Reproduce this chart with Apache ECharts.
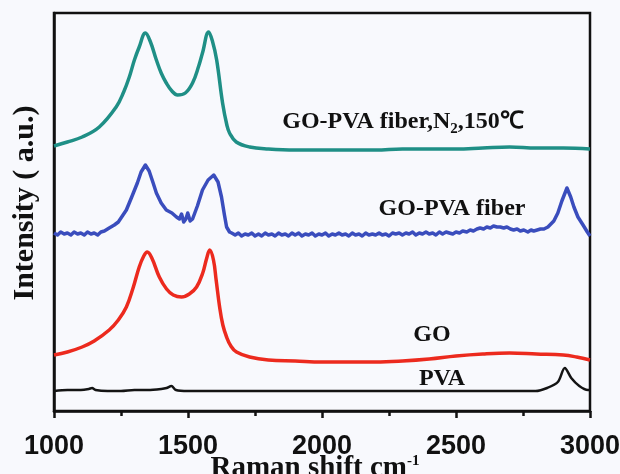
<!DOCTYPE html>
<html>
<head>
<meta charset="utf-8">
<script src="https://cdn.jsdelivr.net/npm/echarts@6/dist/echarts.min.js"></script>
<style>
html,body{margin:0;padding:0;background:#f8f9fd;}
#c{width:620px;height:474px;}
</style>
</head>
<body>
<div id="c"></div>
<script>
// Raman shift (cm-1) tick labels
const xTicks = [1000, 1500, 2000, 2500, 3000];

// [Raman shift, intensity (a.u., offset)]
const pva = [[1000,20],[1050,21],[1100,21],[1130,22],[1142,23],[1155,21],[1200,20],[1250,20],[1300,21],[1350,21],[1400,22],[1420,23],[1438,25],[1455,21],[1500,20],[1600,20],[1700,20],[1800,20],[1900,20],[2000,20],[2100,20],[2200,20],[2300,20],[2400,20],[2500,20],[2600,20],[2700,20],[2797,20],[2840,23],[2880,29],[2906,43],[2930,33],[2960,25],[2992,21],[3000,21]];

const go = [[1000,56],[1050,59],[1105,64],[1150,70],[1206,81],[1240,91],[1270,104],[1295,123],[1318,144],[1335,155],[1348,159],[1365,153],[1393,134],[1420,122],[1445,116],[1476,114],[1505,117],[1532,124],[1555,138],[1570,153],[1581,161],[1595,151],[1605,131],[1618,104],[1630,86],[1644,74],[1660,65],[1681,59],[1730,54],[1800,51],[1900,50],[2000,49],[2100,49],[2200,49],[2300,50],[2400,52],[2500,55],[2600,57],[2700,58],[2800,57],[2900,56],[2950,54],[3000,51]];

const goPvaFiber = [[1000,178],[1013,176],[1025,179],[1038,177],[1050,178],[1063,176],[1075,179],[1088,177],[1100,178],[1113,176],[1125,179],[1138,177],[1150,178],[1163,176],[1175,179],[1188,180],[1206,183],[1225,186],[1240,189],[1255,195],[1270,201],[1290,214],[1311,228],[1325,239],[1341,246],[1355,240],[1370,228],[1382,218],[1400,208],[1419,201],[1440,198],[1457,194],[1468,192],[1476,197],[1484,189],[1492,192],[1499,198],[1508,190],[1517,192],[1535,205],[1554,221],[1575,231],[1596,236],[1612,229],[1625,214],[1636,196],[1644,184],[1655,179],[1663,178],[1676,176],[1688,178],[1700,175],[1713,177],[1725,176],[1738,178],[1750,175],[1763,177],[1775,175],[1788,178],[1800,176],[1813,177],[1825,175],[1838,178],[1850,176],[1863,177],[1875,175],[1888,178],[1900,176],[1913,178],[1925,175],[1938,177],[1950,176],[1963,178],[1975,175],[1988,177],[2000,176],[2013,178],[2025,175],[2038,177],[2050,176],[2063,178],[2075,176],[2088,177],[2100,175],[2113,178],[2125,176],[2138,177],[2150,175],[2163,178],[2175,176],[2188,177],[2200,176],[2213,178],[2225,176],[2238,177],[2250,175],[2263,178],[2275,177],[2288,178],[2300,176],[2313,178],[2325,177],[2338,179],[2350,176],[2363,178],[2375,177],[2388,179],[2400,177],[2413,178],[2425,176],[2438,179],[2450,177],[2463,179],[2475,178],[2488,177],[2500,179],[2513,178],[2525,180],[2540,179],[2553,181],[2565,180],[2578,182],[2590,183],[2603,182],[2615,184],[2628,183],[2640,185],[2653,184],[2665,184],[2678,183],[2690,184],[2703,182],[2715,181],[2728,182],[2740,180],[2753,181],[2768,179],[2780,181],[2790,180],[2803,181],[2815,182],[2828,182],[2843,184],[2865,190],[2880,198],[2895,210],[2914,223],[2928,214],[2940,204],[2955,194],[2974,186],[2990,179],[3000,175]];

const goPvaFiberN2 = [[1000,265],[1050,269],[1105,274],[1169,284],[1232,304],[1260,319],[1281,334],[1300,351],[1318,364],[1341,378],[1360,369],[1382,351],[1400,338],[1419,328],[1440,320],[1461,316],[1490,318],[1517,328],[1540,345],[1554,358],[1577,379],[1592,369],[1607,351],[1629,308],[1645,286],[1655,278],[1680,269],[1730,264],[1800,262],[1900,261],[2000,261],[2100,261],[2200,261],[2300,262],[2400,262],[2500,262],[2600,263],[2700,264],[2800,263],[2900,263],[3000,262]];

const seriesNames = ['PVA', 'GO', 'GO-PVA fiber', 'GO-PVA fiber,N2,150℃'];

const chart = echarts.init(document.getElementById('c'), null, {renderer: 'canvas'});
const serif = '"Liberation Serif","Times New Roman",serif';
const lbl = {fontFamily: serif, fontWeight: 'bold', fontSize: 24, fill: '#111'};

chart.setOption({
  backgroundColor: '#f8f9fd',
  animation: false,
  grid: {left: 54, right: 30, top: 13, bottom: 63, containLabel: false, outerBoundsMode: 'none',
    show: true, borderColor: '#111', borderWidth: 2.5, backgroundColor: 'transparent'},
  xAxis: {
    type: 'value', min: 1000, max: 3000, interval: 500,
    name: 'Raman shift cm{sup|-1}', nameLocation: 'middle', nameGap: 43, nameMoveOverlap: false,
    nameTextStyle: {fontFamily: serif, fontWeight: 'bold', fontSize: 29, color: '#111', padding: [0, 14, 0, 0],
      rich: {sup: {fontFamily: serif, fontWeight: 'bold', fontSize: 15, color: '#111', verticalAlign: 'top', padding: [0,0,12,0]}}},
    axisLine: {show: true, lineStyle: {color: '#111', width: 2.5}},
    axisTick: {show: true, inside: false, length: 7, lineStyle: {color: '#111', width: 2.5}},
    minorTick: {show: true, splitNumber: 2, length: 5, lineStyle: {color: '#111', width: 2.5}},
    splitLine: {show: false},
    axisLabel: {margin: 22, fontFamily: '"Liberation Sans",Arial,sans-serif', fontWeight: 'bold', fontSize: 27, color: '#111',
      formatter: v => xTicks.includes(v) ? String(v) : ''}
  },
  yAxis: {
    type: 'value', min: 0, max: 398,
    name: 'Intensity ( a.u.)', nameLocation: 'middle', nameGap: 14, nameRotate: 90, nameMoveOverlap: false,
    nameTextStyle: {fontFamily: serif, fontWeight: 'bold', fontSize: 30, color: '#111', padding: [0, 0, 0, 18]},
    axisLine: {show: true, lineStyle: {color: '#111', width: 2.5}},
    axisTick: {show: false}, axisLabel: {show: false}, splitLine: {show: false}
  },
  series: [
    {name: seriesNames[0], type: 'line', data: pva, showSymbol: false, smooth: 0.3, lineStyle: {color: '#141414', width: 2.5}},
    {name: seriesNames[1], type: 'line', data: go, showSymbol: false, smooth: 0.4, lineStyle: {color: '#ec2a1e', width: 3.5}},
    {name: seriesNames[2], type: 'line', data: goPvaFiber, showSymbol: false, smooth: false, lineStyle: {color: '#3a4dbd', width: 3.5, join: 'round'}},
    {name: seriesNames[3], type: 'line', data: goPvaFiberN2, showSymbol: false, smooth: 0.4, lineStyle: {color: '#1f8f86', width: 3.5}}
  ],
  graphic: [
    {type: 'text', x: 403, y: 122, style: Object.assign({}, lbl, {text: 'GO-PVA fiber,N{sub|2},150℃', align: 'center', verticalAlign: 'middle',
      rich: {sub: {fontFamily: serif, fontWeight: 'bold', fontSize: 15, fill: '#111', padding: [14, 0, 0, 0]}}})},
    {type: 'text', x: 452, y: 209, style: Object.assign({}, lbl, {text: 'GO-PVA fiber', align: 'center', verticalAlign: 'middle'})},
    {type: 'text', x: 432, y: 335, style: Object.assign({}, lbl, {text: 'GO', align: 'center', verticalAlign: 'middle'})},
    {type: 'text', x: 442, y: 379, style: Object.assign({}, lbl, {text: 'PVA', align: 'center', verticalAlign: 'middle'})}
  ]
});
</script>
</body>
</html>
